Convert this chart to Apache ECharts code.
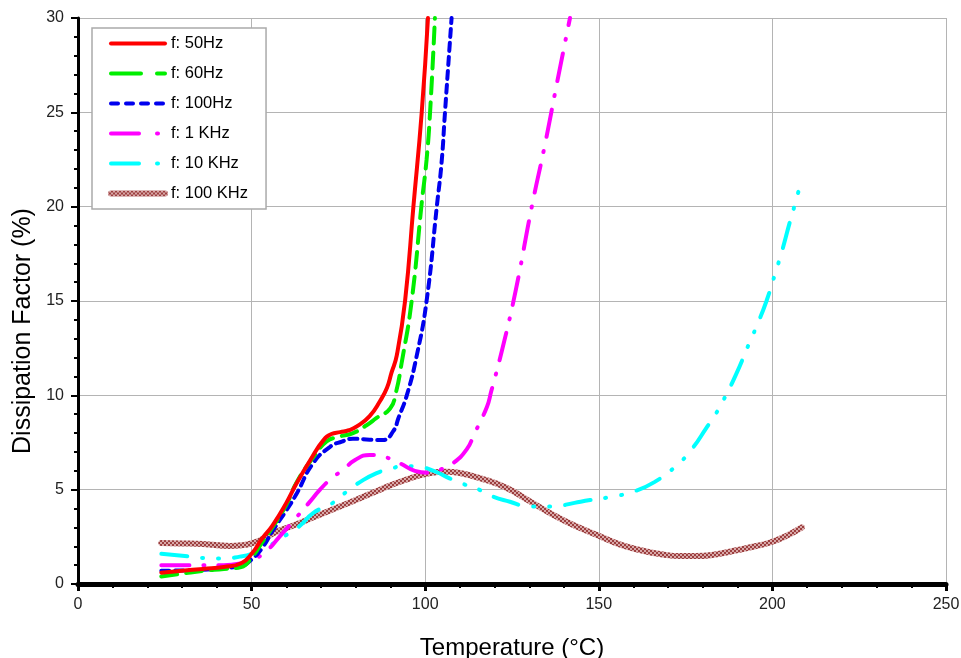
<!DOCTYPE html>
<html>
<head>
<meta charset="utf-8">
<script src="https://cdn.jsdelivr.net/npm/echarts@6/dist/echarts.min.js"></script>
<style>
html,body{margin:0;padding:0;background:#fff;}
#c{width:961px;height:658px;}
</style>
</head>
<body>
<div id="c"></div>
<script>
var seriesNames = ['f: 50Hz', 'f: 60Hz', 'f: 100Hz', 'f: 1 KHz', 'f: 10 KHz', 'f: 100 KHz'];
var xTicks = [0, 50, 100, 150, 200, 250];
var yTicks = [0, 5, 10, 15, 20, 25, 30];

var f50 = [[24,0.6],[30,0.7],[36,0.8],[42,0.9],[47,1.1],[50,1.6],[53,2.4],[56,3.1],[60,4.3],[63,5.35],[67,6.6],[70.6,7.6],[73,7.95],[75.5,8.05],[78,8.15],[80.3,8.35],[84,8.9],[87,9.7],[89,10.4],[90.3,11.2],[91.8,12.1],[94.2,15],[96.6,20],[99,25],[100.8,30]];
var f60 = [[24,0.4],[30,0.55],[36,0.7],[42,0.8],[47,0.9],[50,1.4],[53,2.2],[56,3.0],[60,4.2],[63,5.4],[67.7,6.7],[71.6,7.55],[75,7.8],[79.2,8.0],[83,8.4],[86,8.8],[89.9,9.3],[91.5,10.1],[93.2,11.7],[96.1,15],[99,20.2],[100.4,22.5],[101.4,25],[102.8,30]];
var f100 = [[24,0.7],[30,0.72],[36,0.75],[42,0.85],[47,0.95],[50,1.3],[53,1.9],[56.2,2.86],[60,3.9],[63,4.8],[67.7,6.4],[72.6,7.27],[76,7.55],[79.2,7.7],[84,7.65],[87.8,7.63],[90.8,8.1],[92.3,8.8],[94.7,10],[97.5,12.05],[100.4,15],[103.4,20.1],[104.7,22.3],[105.7,25],[107.6,30]];
var f1k = [[24,1.0],[30,1.0],[36,1.0],[42,1.0],[47,1.1],[50.4,1.3],[54,1.7],[58,2.5],[63,3.55],[66.5,4.3],[69.7,5.0],[73,5.6],[76.3,6.04],[79.8,6.57],[84,6.84],[88,6.75],[92.7,6.4],[97,6.0],[101,5.9],[104,6.04],[108,6.4],[112,7.15],[114,7.9],[117.8,9.4],[119,10.2],[122,12.3],[126,15.5],[130.7,20],[134.5,23.3],[138,26.6],[141.7,30]];
var f10k = [[24,1.6],[30,1.5],[37,1.37],[42,1.35],[46.6,1.45],[50,1.6],[54.4,1.96],[60,2.6],[64,3.1],[67.7,3.76],[73.4,4.3],[77.4,4.9],[81.2,5.4],[86,5.88],[90,6.1],[93.6,6.25],[98.5,6.2],[103,5.95],[107,5.6],[111,5.3],[115.8,4.98],[119.5,4.63],[124.4,4.36],[129,4.13],[134,4.1],[138,4.13],[143,4.3],[147.5,4.45],[153,4.6],[160,4.9],[166,5.4],[172.5,6.3],[177,7.2],[180.9,8.25],[183.5,8.96],[185.9,9.75],[189.5,11.1],[193.3,12.75],[195.3,13.6],[198.3,15],[201.2,16.7],[202.7,17.6],[204.9,19.1],[206.3,20],[207.5,20.8]];
var f100k = [[24,2.17],[30,2.15],[36,2.12],[43.8,2.02],[47,2.05],[50,2.15],[53.4,2.4],[57,2.75],[62,3.1],[68,3.55],[72.6,3.9],[80,4.45],[87,5.0],[94,5.5],[101.4,5.88],[106,5.95],[110,5.88],[116,5.6],[123.5,5.09],[130,4.4],[137,3.65],[143,3.1],[149.5,2.6],[156,2.1],[163,1.75],[168,1.58],[173.4,1.48],[178,1.48],[184,1.58],[190,1.8],[195,2.0],[199.3,2.2],[204,2.55],[208.5,3.0]];

var seriesData = [f50, f60, f100, f1k, f10k, f100k];

// hatched texture for the 100 KHz line
var pc = document.createElement('canvas');
pc.width = 4; pc.height = 4;
var pctx = pc.getContext('2d');
pctx.fillStyle = '#d9a9a9'; pctx.fillRect(0, 0, 4, 4);
pctx.fillStyle = '#9c3f3f';
pctx.fillRect(0, 0, 2, 2); pctx.fillRect(2, 2, 2, 2);
var brownPattern = {image: pc, repeat: 'repeat'};

var styles = [
  {color:'#ff0000', width:4, type:'solid'},
  {color:'#00ee00', width:4, type:[16,9]},
  {color:'#0000ee', width:4, type:[8,6]},
  {color:'#ff00ff', width:4, type:[28,14,1,14]},
  {color:'#00ffff', width:4, type:[26,15,1,15,1,15]},
  {color:brownPattern, width:6, type:'solid'}
];
var legendTypes = ['solid', [30,16], [7,8], [28,18,1,20], [28,18,1,20], 'solid'];

var chart = echarts.init(document.getElementById('c'));
var font = 'Liberation Sans, Arial, sans-serif';
var option = {
  animation: false,
  backgroundColor: '#fff',
  grid: {left: 78, right: 15, top: 18, bottom: 74, containLabel: false, outerBoundsMode: 'none'},
  legend: {
    orient: 'vertical', left: 92, top: 28,
    padding: [7, 18, 7, 16],
    itemWidth: 54, itemHeight: 14, itemGap: 13,
    backgroundColor: '#fff', borderColor: '#aaaaaa', borderWidth: 1.5, borderRadius: 0,
    itemStyle: {opacity: 0, borderWidth: 0},
    textStyle: {fontFamily: font, fontSize: 16.5, color: '#000', padding: [0,0,0,1]},
    data: seriesNames.map(function(n, i){
      return {name: n, lineStyle: {width: styles[i].width, color: styles[i].color, type: legendTypes[i], cap: 'round'}};
    })
  },
  xAxis: {
    type: 'value', min: 0, max: 250, interval: 50,
    name: 'Temperature (°C)', nameLocation: 'middle', nameGap: 52,
    nameTextStyle: {fontFamily: font, fontSize: 24, color: '#000'},
    axisLine: {show: true, onZero: false, lineStyle: {color: '#000', width: 5}},
    axisTick: {show: true, length: 7, lineStyle: {color: '#000', width: 3}},
    minorTick: {show: true, splitNumber: 5, length: 4, lineStyle: {color: '#000', width: 2}},
    axisLabel: {fontFamily: font, fontSize: 16, color: '#222', margin: 13,
      formatter: function(v){ return xTicks.indexOf(v) >= 0 ? String(v) : ''; }},
    splitLine: {show: true, lineStyle: {color: '#b4b4b4', width: 1}}
  },
  yAxis: {
    type: 'value', min: 0, max: 30, interval: 5,
    name: 'Dissipation Factor (%)', nameLocation: 'middle', nameGap: 38,
    nameTextStyle: {fontFamily: font, fontSize: 25, color: '#000', padding: [0, 60, 0, 0]},
    axisLine: {show: true, onZero: false, lineStyle: {color: '#000', width: 3}},
    axisTick: {show: true, length: 7, lineStyle: {color: '#000', width: 2}},
    minorTick: {show: true, splitNumber: 5, length: 4, lineStyle: {color: '#000', width: 2}},
    axisLabel: {fontFamily: font, fontSize: 16, color: '#222', margin: 14,
      formatter: function(v){ return yTicks.indexOf(v) >= 0 ? String(v) : ''; }},
    splitLine: {show: true, lineStyle: {color: '#b4b4b4', width: 1}}
  },
  series: seriesNames.map(function(n, i){
    return {
      name: n, type: 'line', data: seriesData[i],
      smooth: 0.5, showSymbol: false, symbol: 'none',
      clip: true,
      lineStyle: {color: styles[i].color, width: styles[i].width, type: styles[i].type, cap: 'round'},
      itemStyle: {color: i === 5 ? '#a85a5a' : styles[i].color},
      z: 10 - i
    };
  })
};
chart.setOption(option);
</script>
</body>
</html>
